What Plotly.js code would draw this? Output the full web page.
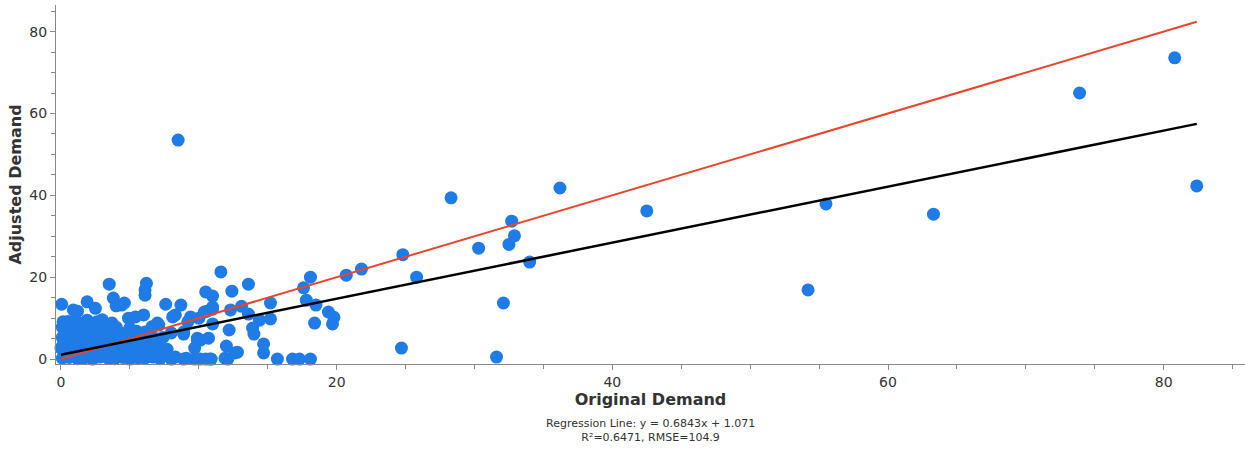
<!DOCTYPE html>
<html>
<head>
<meta charset="utf-8">
<script src="https://cdn.plot.ly/plotly-3.0.1.min.js"></script>
<style>
  html, body { margin: 0; padding: 0; background: #fff; }
  #chart { width: 1245px; height: 450px; }
</style>
</head>
<body>
<div id="chart"></div>
<script>
// Original vs adjusted demand per item
const originalDemand = [
  // larger items
  8.5, 80.8, 73.9, 82.4, 63.3, 55.5, 54.2, 42.5, 36.2, 28.3,
  30.3, 32.7, 32.9, 32.5, 34.0, 25.8, 24.8, 32.1, 31.6, 24.7,
  21.8, 20.7, 18.1, 17.6, 17.8, 18.5, 19.4, 19.8, 19.7, 18.4,
  15.7, 16.8, 17.3, 18.1, 13.6, 11.6, 12.4, 10.5, 11.0, 15.2,
  13.1, 12.3, 11.0, 10.6, 13.6, 15.2, 14.4, 11.0, 13.9, 14.0,
  12.2, 10.7, 10.1, 12.0, 14.7, 14.7, 12.6, 12.1, 10.8, 10.1,
  // mid-range items
  0.05, 0.15, 0.9, 1.2, 1.9, 2.5, 3.5, 3.8, 4.0, 4.4,
  1.9, 3.7, 4.9, 5.4, 6.0, 6.2, 6.1, 6.1, 7.6, 8.7,
  8.3, 7.1, 8.0, 8.9, 9.2, 10.0, 9.9, 4.9, 7.7, 8.9,
  9.7, 10.5, 10.9, 8.0, 8.1, 7.0, 8.9, 9.7, 8.3, 9.1,
  4.6, 10.4, 9.9, 12.8, 11.9, 9.4, 11.0,
  // small items
  0.1, 0.6, 1.2, 1.7, 2.3, 2.8, 3.4, 3.9, 4.5, 5.0, 5.6, 6.1, 6.7, 7.2,
  0.3, 0.9, 1.5, 2.0, 2.6, 3.2, 3.8, 4.3, 4.9, 5.4, 6.0, 6.6,
  0.0, 0.5, 1.1, 1.8, 2.4, 2.9, 3.5, 4.1, 4.7, 5.3, 5.9, 6.5, 7.1,
  0.2, 0.8, 1.3, 1.9, 2.6, 3.1, 3.7, 4.4, 5.0, 5.7, 6.3,
  0.1, 0.7, 1.4, 2.1, 2.7, 3.3, 3.9, 4.6, 5.2, 5.9, 6.8, 7.4,
  0.3, 0.9, 1.6, 2.2, 2.9, 3.5, 4.2, 4.8, 5.5, 6.1,
  0.1, 0.6, 1.2, 2.0, 2.7, 3.4, 4.0, 5.0, 6.6,
  0.5, 1.1, 2.6, 3.0
];
const adjustedDemand = [
  53.5, 73.6, 65.0, 42.3, 35.4, 37.9, 16.9, 36.2, 41.8, 39.4,
  27.1, 33.7, 30.1, 28.0, 23.7, 20.0, 25.5, 13.7, 0.5, 2.7,
  22.0, 20.5, 20.0, 17.4, 14.4, 13.2, 11.5, 10.2, 8.6, 8.8,
  0.0, 0.0, 0.0, 0.0, 18.3, 21.3, 16.6, 16.4, 15.4, 13.7,
  12.9, 12.0, 12.2, 11.7, 11.0, 9.8, 9.5, 8.6, 7.6, 6.1,
  7.1, 5.1, 4.6, 3.2, 3.7, 1.5, 1.5, 0.0, 0.0, 0.0,
  13.4, 9.1, 12.0, 11.7, 14.0, 12.4, 18.3, 14.9, 13.0, 13.2,
  9.5, 8.8, 10.0, 10.3, 10.8, 18.5, 16.9, 15.6, 13.4, 13.2,
  10.8, 8.3, 6.4, 6.1, 9.1, 10.0, 4.6, 3.0, 2.4, 0.0,
  0.0, 0.0, 0.0, 0.0, 10.3, 8.8, 6.6, 2.7, 0.5, 0.2,
  13.7, 11.5, 5.1, 1.7, 0.2, 10.3, 12.7,
  0.2, 0.4, 0.1, 0.3, 0.0, 0.5, 0.2, 0.1, 0.4, 0.0, 0.3, 0.2, 0.5, 0.1,
  1.4, 1.6, 1.2, 1.5, 1.3, 1.7, 1.4, 1.2, 1.6, 1.5, 1.3, 1.4,
  2.7, 2.9, 2.6, 2.8, 2.5, 2.9, 2.7, 2.6, 3.0, 2.8, 2.6, 2.7, 2.9,
  4.0, 4.2, 3.9, 4.1, 3.8, 4.3, 4.0, 4.1, 3.9, 4.2, 4.0,
  5.3, 5.1, 5.5, 5.2, 5.4, 5.0, 5.3, 5.6, 5.2, 5.4, 5.1, 5.3,
  6.6, 6.8, 6.5, 6.7, 6.4, 6.9, 6.6, 6.5, 6.8, 6.6,
  7.8, 8.0, 7.6, 7.9, 7.7, 8.1, 7.8, 7.6, 7.9,
  9.2, 9.4, 9.1, 9.6
];

// Fitted regression coefficients
const slope = 0.6843;
const intercept = 1.071;
const rSquared = 0.6471;
const rmse = 104.9;

const xMin = Math.min(...originalDemand);
const xMax = Math.max(...originalDemand);

const points = {
  type: 'scatter',
  mode: 'markers',
  x: originalDemand,
  y: adjustedDemand,
  marker: { color: 'rgb(31,123,230)', size: 13, line: { width: 0 } },
  cliponaxis: false,
  hoverinfo: 'x+y',
  showlegend: false
};

const identityLine = {
  type: 'scatter',
  mode: 'lines',
  x: [xMin, xMax],
  y: [xMin, xMax],
  line: { color: '#e8452c', width: 2 },
  hoverinfo: 'skip',
  showlegend: false
};

const regressionLine = {
  type: 'scatter',
  mode: 'lines',
  x: [xMin, xMax],
  y: [slope * xMin + intercept, slope * xMax + intercept],
  line: { color: '#000000', width: 2.5 },
  hoverinfo: 'skip',
  showlegend: false
};

const tickFont = { family: 'DejaVu Sans, Verdana, sans-serif', size: 14, color: '#333333' };
const titleFont = { family: 'DejaVu Sans, Verdana, sans-serif', size: 16, color: '#333333' };

const layout = {
  width: 1245,
  height: 450,
  margin: { l: 56, r: 0, t: 5, b: 86 },
  paper_bgcolor: '#ffffff',
  plot_bgcolor: '#ffffff',
  showlegend: false,
  xaxis: {
    range: [-0.36, 85.9],
    dtick: 20,
    tick0: 0,
    showgrid: false,
    zeroline: false,
    showline: true,
    linecolor: '#8a8a8a',
    linewidth: 1,
    ticks: 'outside',
    ticklen: 5,
    tickcolor: '#8a8a8a',
    minor: { dtick: 5, ticks: 'outside', ticklen: 4, tickcolor: '#8a8a8a', showgrid: false },
    tickfont: tickFont,
    title: { text: '<b>Original Demand</b>', font: titleFont, standoff: 4 }
  },
  yaxis: {
    range: [-1.2, 86.5],
    dtick: 20,
    tick0: 0,
    showgrid: false,
    zeroline: false,
    showline: true,
    linecolor: '#8a8a8a',
    linewidth: 1,
    ticks: 'outside',
    ticklen: 5,
    tickcolor: '#8a8a8a',
    minor: { dtick: 5, ticks: 'outside', ticklen: 4, tickcolor: '#8a8a8a', showgrid: false },
    tickfont: tickFont,
    title: { text: '<b>Adjusted Demand</b>', font: titleFont, standoff: 3 }
  },
  annotations: [{
    xref: 'paper',
    yref: 'paper',
    x: 0.5,
    y: 0,
    xanchor: 'center',
    yanchor: 'top',
    yshift: -51,
    showarrow: false,
    align: 'center',
    font: { family: 'DejaVu Sans, Verdana, sans-serif', size: 11, color: '#333333' },
    text: 'Regression Line: y = ' + slope.toFixed(4) + 'x + ' + intercept.toFixed(3) +
          '<br>R²=' + rSquared.toFixed(4) + ', RMSE=' + rmse.toFixed(1)
  }]
};

Plotly.newPlot('chart', [points, identityLine, regressionLine], layout, { displayModeBar: false, staticPlot: true });
</script>
</body>
</html>
